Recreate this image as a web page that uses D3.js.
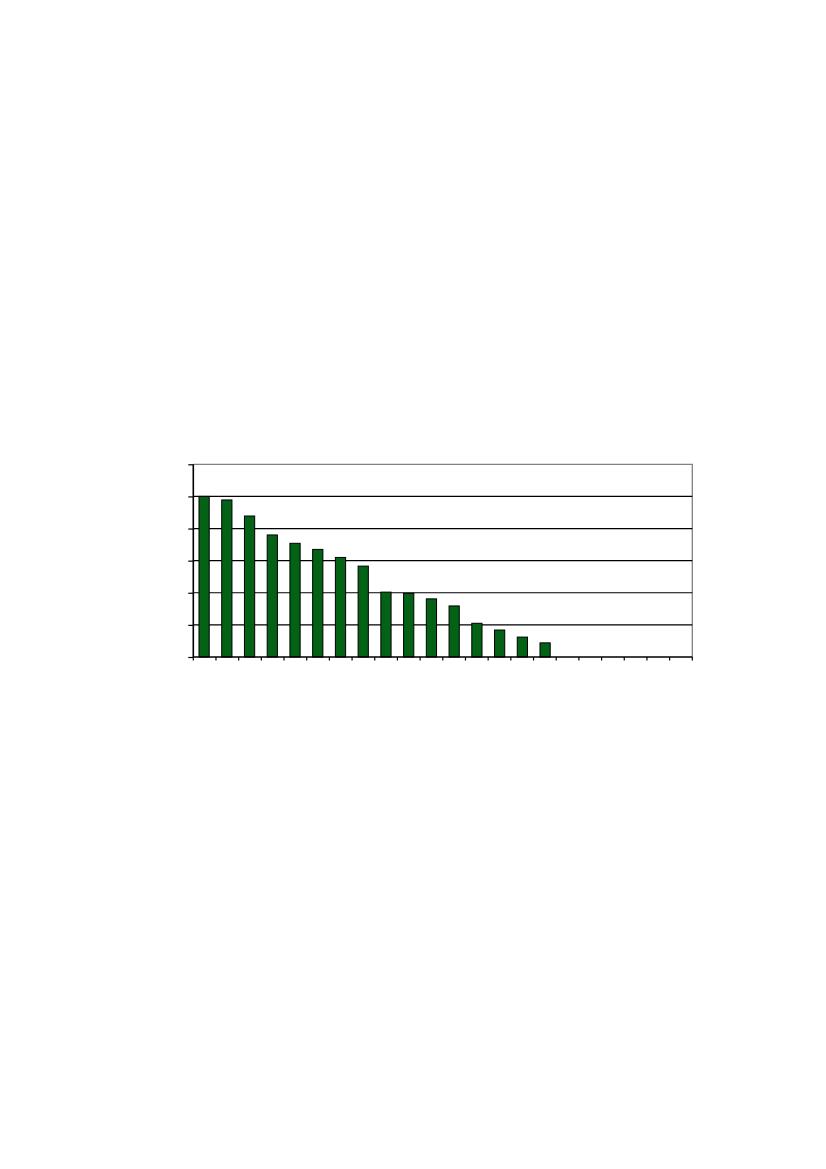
<!DOCTYPE html>
<html lang="en">
<head>
<meta charset="utf-8">
<style>
  body { margin: 0; background: #fff; }
</style>
</head>
<body>
<script src="https://d3js.org/d3.v7.min.js"></script>
<script>
  // 22 category slots, only the first 16 carry a value
  const categories = d3.range(1, 23).map(String);
  const values = [5.0, 4.89, 4.39, 3.8, 3.54, 3.35, 3.1, 2.83,
                  2.02, 1.98, 1.81, 1.59, 1.05, 0.84, 0.62, 0.44];
  const yTicks = [0, 1, 2, 3, 4, 5, 6];

  const width = 826, height = 1169;
  const plot = { left: 193.3, top: 464.3, right: 692.3, bottom: 657 };

  const svg = d3.select("body").append("svg")
    .attr("width", width)
    .attr("height", height);

  const x = d3.scaleBand()
    .domain(categories)
    .range([plot.left, plot.right])
    .paddingInner(0.55)
    .paddingOuter(0.25);

  const y = d3.scaleLinear()
    .domain([0, 6])
    .range([plot.bottom, plot.top]);

  // plot border (top + right in gray)
  svg.append("path")
    .attr("d", "M" + plot.left + "," + y(6) + "H" + plot.right + "V" + plot.bottom)
    .attr("fill", "none")
    .attr("stroke", "#808080")
    .attr("stroke-width", 1.3);

  // gridlines
  svg.append("g")
    .selectAll("line")
    .data(yTicks.filter(d => d > 0 && d < 6))
    .enter().append("line")
    .attr("x1", plot.left)
    .attr("x2", plot.right)
    .attr("y1", d => y(d))
    .attr("y2", d => y(d))
    .attr("stroke", "#000")
    .attr("stroke-width", 1.2);

  // bars
  svg.append("g")
    .selectAll("rect")
    .data(values)
    .enter().append("rect")
    .attr("x", (d, i) => x(categories[i]))
    .attr("y", d => y(d))
    .attr("width", x.bandwidth())
    .attr("height", d => y(0) - y(d))
    .attr("fill", "#036216")
    .attr("stroke", "#000")
    .attr("stroke-width", 1);

  // y axis: tick marks only, no labels
  const yAxis = d3.axisLeft(y).tickValues(yTicks).tickSize(5).tickFormat("");
  svg.append("g")
    .attr("transform", "translate(" + plot.left + ",0)")
    .call(yAxis)
    .call(g => g.select(".domain").attr("stroke-width", 1.6).attr("d", "M0," + plot.top + "V" + plot.bottom))
    .call(g => g.selectAll(".tick line").attr("stroke-width", 1.2));

  // x axis: tick marks between categories
  const step = x.step();
  const tickPos = d3.range(categories.length + 1).map(i => plot.left + i * (plot.right - plot.left) / categories.length);
  svg.append("g")
    .selectAll("line")
    .data(tickPos)
    .enter().append("line")
    .attr("x1", d => d).attr("x2", d => d)
    .attr("y1", plot.bottom).attr("y2", plot.bottom + 3.5)
    .attr("stroke", "#000")
    .attr("stroke-width", 1.2);

  svg.append("line")
    .attr("x1", plot.left).attr("x2", plot.right)
    .attr("y1", plot.bottom).attr("y2", plot.bottom)
    .attr("stroke", "#000")
    .attr("stroke-width", 1.6);
</script>
</body>
</html>
